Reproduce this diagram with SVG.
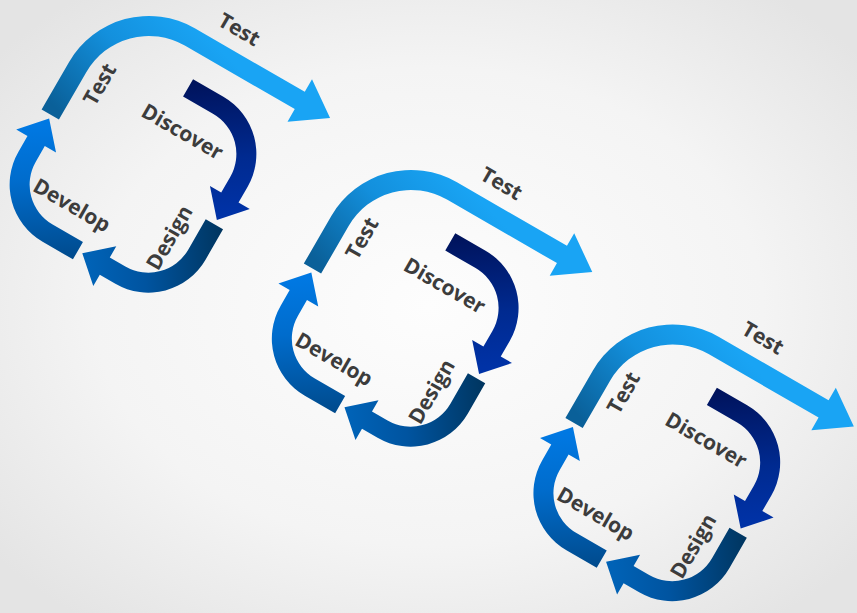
<svg xmlns="http://www.w3.org/2000/svg" xmlns:xlink="http://www.w3.org/1999/xlink" width="857" height="613" viewBox="0 0 857 613">
  <defs>
    <radialGradient id="bg" cx="50%" cy="50%" r="65%">
      <stop offset="0" stop-color="#fdfdfd"/>
      <stop offset="0.6" stop-color="#f4f4f4"/>
      <stop offset="1" stop-color="#e4e4e4"/>
    </radialGradient>
    <linearGradient id="gTest" x1="0.05" y1="0.95" x2="0.45" y2="0.1">
      <stop offset="0" stop-color="#0a6099"/>
      <stop offset="0.55" stop-color="#1390dd"/>
      <stop offset="1" stop-color="#19a4f4"/>
    </linearGradient>
    <linearGradient id="gDiscover" x1="0" y1="0" x2="0.7" y2="1">
      <stop offset="0" stop-color="#00125a"/>
      <stop offset="0.6" stop-color="#002a90"/>
      <stop offset="1" stop-color="#0032a6"/>
    </linearGradient>
    <linearGradient id="gDesign" x1="0" y1="0" x2="0.7" y2="1">
      <stop offset="0" stop-color="#00355f"/>
      <stop offset="0.6" stop-color="#0054a0"/>
      <stop offset="1" stop-color="#0062b6"/>
    </linearGradient>
    <linearGradient id="gDevelop" x1="0" y1="0" x2="0.7" y2="1">
      <stop offset="0" stop-color="#004a8c"/>
      <stop offset="0.6" stop-color="#006ccc"/>
      <stop offset="1" stop-color="#0078e2"/>
    </linearGradient>
    <path id="bend" d="M 7,-108 L 42,-108 A 66,66 0 0 1 108,-42 L 108,-24 L 121,-24 L 98,2 L 75,-24 L 88,-24 L 88,-42 A 46,46 0 0 0 42,-88 L 7,-88 Z"/>
    <path id="bigArrow" d="M -109,-6 L -109,-61 A 92,92 0 0 1 -17,-153 L 110,-153 L 110,-167.5 L 145,-143 L 110,-118.5 L 110,-133 L -17,-133 A 72,72 0 0 0 -89,-61 L -89,-6 Z"/>
  </defs>
  <style>
    .lbl { font-family: "Open Sans", "Liberation Sans", sans-serif; font-weight: 700; font-size: 21px; fill: #3c3c3c; text-anchor: middle; }
  </style>
  <rect x="0" y="0" width="857" height="613" fill="url(#bg)"/>

  <g id="cycle-1" transform="translate(133,169.3) rotate(30)">
    <g id="c1-test"><use xlink:href="#bigArrow" fill="url(#gTest)"/>
      <text class="lbl" x="22" y="-167">Test</text>
      <text class="lbl" transform="translate(-64,-57) rotate(-90)">Test</text></g>
    <g id="c1-discover"><use xlink:href="#bend" fill="url(#gDiscover)"/>
      <text class="lbl" x="24" y="-50">Discover</text></g>
    <g id="c1-design"><use xlink:href="#bend" fill="url(#gDesign)" transform="rotate(90)"/>
      <text class="lbl" transform="translate(73,41) rotate(-90)">Design</text></g>
    <g id="c1-develop"><use xlink:href="#bend" fill="url(#gDevelop)" transform="rotate(180)"/>
      <text class="lbl" x="-35" y="69">Develop</text></g>
  </g>

  <g id="cycle-2" transform="translate(395.2,323.3) rotate(30)">
    <g id="c2-test"><use xlink:href="#bigArrow" fill="url(#gTest)"/>
      <text class="lbl" x="22" y="-167">Test</text>
      <text class="lbl" transform="translate(-64,-57) rotate(-90)">Test</text></g>
    <g id="c2-discover"><use xlink:href="#bend" fill="url(#gDiscover)"/>
      <text class="lbl" x="24" y="-50">Discover</text></g>
    <g id="c2-design"><use xlink:href="#bend" fill="url(#gDesign)" transform="rotate(90)"/>
      <text class="lbl" transform="translate(73,41) rotate(-90)">Design</text></g>
    <g id="c2-develop"><use xlink:href="#bend" fill="url(#gDevelop)" transform="rotate(180)"/>
      <text class="lbl" x="-35" y="69">Develop</text></g>
  </g>

  <g id="cycle-3" transform="translate(656.8,477.8) rotate(30)">
    <g id="c3-test"><use xlink:href="#bigArrow" fill="url(#gTest)"/>
      <text class="lbl" x="22" y="-167">Test</text>
      <text class="lbl" transform="translate(-64,-57) rotate(-90)">Test</text></g>
    <g id="c3-discover"><use xlink:href="#bend" fill="url(#gDiscover)"/>
      <text class="lbl" x="24" y="-50">Discover</text></g>
    <g id="c3-design"><use xlink:href="#bend" fill="url(#gDesign)" transform="rotate(90)"/>
      <text class="lbl" transform="translate(73,41) rotate(-90)">Design</text></g>
    <g id="c3-develop"><use xlink:href="#bend" fill="url(#gDevelop)" transform="rotate(180)"/>
      <text class="lbl" x="-35" y="69">Develop</text></g>
  </g>
</svg>
